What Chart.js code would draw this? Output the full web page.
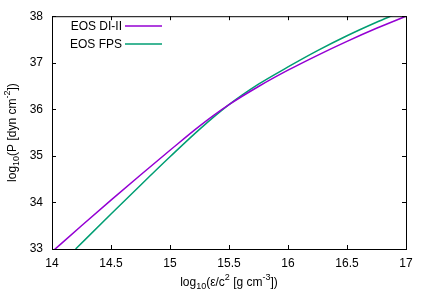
<!DOCTYPE html>
<html>
<head>
<meta charset="utf-8">
<script src="https://cdn.jsdelivr.net/npm/chart.js@4"></script>
<style>
  html, body { margin: 0; padding: 0; background: #fff; }
  #wrap { width: 428px; height: 300px; }
</style>
</head>
<body>
<div id="wrap"><canvas id="eosChart" width="428" height="300"></canvas></div>
<script>
// log10(eps/c^2) and log10(P)
const diiDensity  = [14.0, 14.25, 14.5, 14.75, 15.0, 15.25, 15.5, 15.75, 16.0, 16.25, 16.5, 16.75, 17.0];
const diiPressure = [32.94, 33.50, 34.05, 34.59, 35.12, 35.64, 36.10, 36.49, 36.84, 37.16, 37.46, 37.74, 38.0];
const fpsDensity  = [14.2, 14.5, 14.75, 15.0, 15.25, 15.5, 15.75, 16.0, 16.25, 16.5, 16.75, 16.9];
const fpsPressure = [33.0, 33.75, 34.37, 34.98, 35.57, 36.10, 36.54, 36.91, 37.26, 37.58, 37.87, 38.03];

const xTicks = [14, 14.5, 15, 15.5, 16, 16.5, 17];
const yTicks = [33, 34, 35, 36, 37, 38];
const seriesNames = ['EOS DI-II', 'EOS FPS'];
const seriesColors = ['#9400d3', '#009e73'];

const FONT = '"Liberation Sans", Arial, sans-serif';

function toPoints(xs, ys) {
  return xs.map((x, i) => ({ x: x, y: ys[i] }));
}

// draw text with sub/superscripts, centered on (x, y)
function drawRich(ctx, parts, x, y) {
  const big = '12px ' + FONT, small = '9px ' + FONT;
  let total = 0;
  parts.forEach(p => {
    ctx.font = p[1] ? small : big;
    total += ctx.measureText(p[0]).width;
  });
  let cx = x - total / 2;
  ctx.textAlign = 'left';
  ctx.textBaseline = 'middle';
  parts.forEach(p => {
    ctx.font = p[1] ? small : big;
    const dy = p[1] === 'sub' ? 4 : p[1] === 'sup' ? -5 : 0;
    ctx.fillText(p[0], cx, y + dy);
    cx += ctx.measureText(p[0]).width;
  });
}

const framePlugin = {
  id: 'frame',
  afterDatasetsDraw(chart) {
    const ctx = chart.ctx;
    const a = chart.chartArea;
    const xs = chart.scales.x, ys = chart.scales.y;
    ctx.save();
    ctx.strokeStyle = '#000';
    ctx.lineWidth = 1;
    ctx.strokeRect(a.left + 0.5, a.top + 0.5, a.right - a.left, a.bottom - a.top);
    ctx.beginPath();
    xTicks.forEach(v => {
      const px = Math.round(xs.getPixelForValue(v)) + 0.5;
      ctx.moveTo(px, a.bottom); ctx.lineTo(px, a.bottom - 4);
      ctx.moveTo(px, a.top); ctx.lineTo(px, a.top + 4);
    });
    yTicks.forEach(v => {
      const py = Math.round(ys.getPixelForValue(v)) + 0.5;
      ctx.moveTo(a.left, py); ctx.lineTo(a.left + 4, py);
      ctx.moveTo(a.right, py); ctx.lineTo(a.right - 4, py);
    });
    ctx.stroke();

    // legend: text right-aligned, sample line to the right
    ctx.font = '12px ' + FONT;
    ctx.textAlign = 'right';
    ctx.textBaseline = 'middle';
    seriesNames.forEach((name, i) => {
      const y = 27 + i * 18;
      ctx.fillStyle = '#000';
      ctx.fillText(name, 122, y);
      ctx.strokeStyle = seriesColors[i];
      ctx.lineWidth = 1.5;
      ctx.beginPath();
      ctx.moveTo(125, y - 1); ctx.lineTo(162, y - 1);
      ctx.stroke();
    });

    // axis titles
    ctx.fillStyle = '#000';
    drawRich(ctx, [['log'], ['10', 'sub'], ['(\u03b5/c'], ['2', 'sup'], [' [g cm'], ['-3', 'sup'], ['])']],
      (a.left + a.right) / 2, 283);
    ctx.translate(13, (a.top + a.bottom) / 2);
    ctx.rotate(-Math.PI / 2);
    drawRich(ctx, [['log'], ['10', 'sub'], ['(P [dyn cm'], ['-2', 'sup'], ['])']], 0, 0);
    ctx.restore();
  }
};

new Chart(document.getElementById('eosChart'), {
  type: 'scatter',
  data: {
    datasets: [
      {
        label: seriesNames[0],
        data: toPoints(diiDensity, diiPressure),
        showLine: true,
        borderColor: seriesColors[0],
        borderWidth: 1.5,
        pointRadius: 0,
        cubicInterpolationMode: 'monotone'
      },
      {
        label: seriesNames[1],
        data: toPoints(fpsDensity, fpsPressure),
        showLine: true,
        borderColor: seriesColors[1],
        borderWidth: 1.5,
        pointRadius: 0,
        cubicInterpolationMode: 'monotone'
      }
    ]
  },
  options: {
    responsive: false,
    animation: false,
    layout: { padding: { top: 14, right: 22, left: 0, bottom: 0 } },
    plugins: {
      legend: { display: false },
      tooltip: { enabled: false }
    },
    scales: {
      x: {
        type: 'linear',
        min: 14,
        max: 17,
        afterBuildTicks: s => { s.ticks = xTicks.map(v => ({ value: v })); },
        afterFit: s => { s.height = 51; },
        grid: { display: false, drawTicks: false },
        border: { display: false },
        ticks: { color: '#000', padding: 7, maxRotation: 0, font: { family: FONT, size: 12 }, callback: v => String(v) }
      },
      y: {
        type: 'linear',
        min: 33,
        max: 38,
        afterBuildTicks: s => { s.ticks = yTicks.map(v => ({ value: v })); },
        afterFit: s => { s.width = 52; },
        grid: { display: false, drawTicks: false },
        border: { display: false },
        ticks: { color: '#000', padding: 9, font: { family: FONT, size: 12 }, callback: v => String(v) }
      }
    }
  },
  plugins: [framePlugin]
});
</script>
</body>
</html>
